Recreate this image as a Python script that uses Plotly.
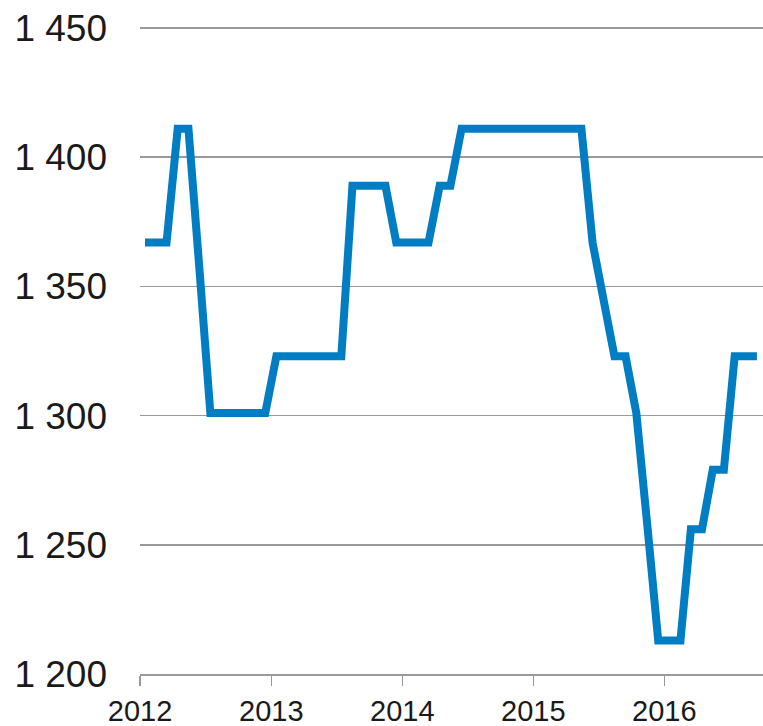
import plotly.graph_objects as go
import pandas as pd

# Monthly observations (plotted mid-month), Jan 2012 – Sep 2016
values_2012 = [1367, 1367, 1367, 1411, 1411, 1356, 1301, 1301, 1301, 1301, 1301, 1301]
values_2013 = [1323, 1323, 1323, 1323, 1323, 1323, 1323, 1389, 1389, 1389, 1389, 1367]
values_2014 = [1367, 1367, 1367, 1389, 1389, 1411, 1411, 1411, 1411, 1411, 1411, 1411]
values_2015 = [1411, 1411, 1411, 1411, 1411, 1367, 1345, 1323, 1323, 1301, 1257, 1213]
values_2016 = [1213, 1213, 1256, 1256, 1279, 1279, 1323, 1323, 1323]
values = values_2012 + values_2013 + values_2014 + values_2015 + values_2016

year_ticks = ["2012-01-01", "2013-01-01", "2014-01-01", "2015-01-01", "2016-01-01"]
year_labels = ["2012", "2013", "2014", "2015", "2016"]

months = pd.date_range("2012-01-01", periods=len(values), freq="MS") + pd.Timedelta(days=14)

fig = go.Figure()
fig.add_trace(go.Scatter(
    x=months, y=values, mode="lines",
    line=dict(color="#007DC3", width=8),
    hoverinfo="skip",
))

fig.update_layout(
    width=763, height=726,
    margin=dict(l=140, r=0, t=27, b=52),
    paper_bgcolor="white", plot_bgcolor="white",
    showlegend=False,
    separators=", ",
    font=dict(family="Liberation Sans, Arial, sans-serif", color="#1a1a1a"),
)
fig.update_xaxes(
    type="date",
    range=["2012-01-01", "2016-10-02"],
    tickvals=year_ticks, ticktext=year_labels,
    ticks="outside", ticklen=10, tickwidth=1.5, tickcolor="#999999",
    showline=True, linecolor="#999999", linewidth=1.5,
    showgrid=False, zeroline=False,
    tickfont=dict(size=29),
    ticklabelstandoff=1,
    ticklabeloverflow="allow",
    automargin=False,
)
fig.update_yaxes(
    range=[1200, 1450.4],
    tickvals=[1200, 1250, 1300, 1350, 1400, 1450],
    tickformat=",d",
    showgrid=True, gridcolor="#999999", gridwidth=1.5,
    zeroline=False, showline=False,
    ticks="",
    tickfont=dict(size=37),
    ticklabelstandoff=32,
    ticklabeloverflow="allow",
    automargin=False,
)

fig.write_html(
    "out.html",
    config={"displayModeBar": False, "staticPlot": True},
    post_script="document.body.style.margin='0';document.body.style.overflow='hidden';",
)
